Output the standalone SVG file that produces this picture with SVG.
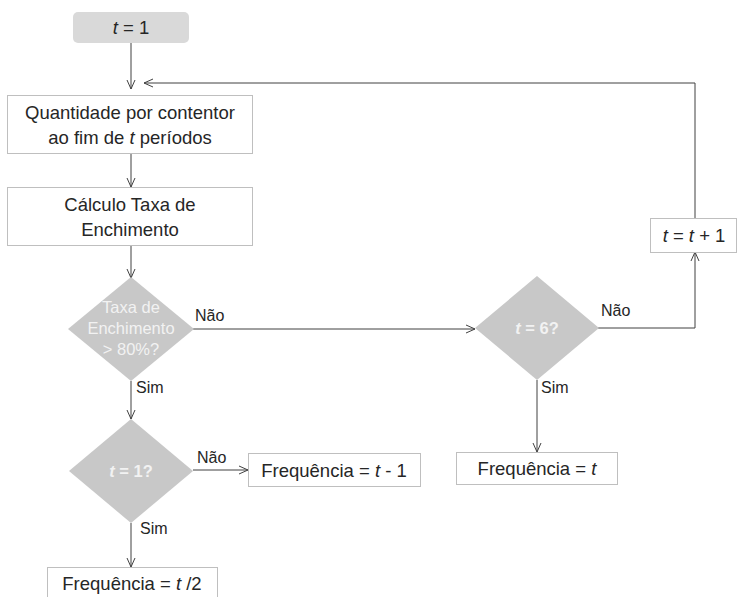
<svg xmlns="http://www.w3.org/2000/svg" width="737" height="597" viewBox="0 0 737 597">
<defs>
<style>
.box{fill:#fff;stroke:#bfbfbf;stroke-width:1}
.start{fill:#d9d9d9;stroke:none}
.dia{fill:#c8c8c8;stroke:none}
.t{font-family:"Liberation Sans",Arial,sans-serif;font-size:18.5px;fill:#262626;text-anchor:middle}
.dt{font-family:"Liberation Sans",Arial,sans-serif;font-size:16.5px;fill:#f2f2f2;text-anchor:middle}
.db{font-family:"Liberation Sans",Arial,sans-serif;font-size:16.5px;font-weight:bold;fill:#f2f2f2;text-anchor:middle}
.lbl{font-family:"Liberation Sans",Arial,sans-serif;font-size:16px;fill:#262626}
.ln{fill:none;stroke:#404040;stroke-width:1}
</style>
<marker id="ah" viewBox="0 0 10 10" refX="10" refY="5" markerWidth="10" markerHeight="10" markerUnits="userSpaceOnUse" orient="auto">
<path d="M1,1 L10,5 L1,9" fill="none" stroke="#404040" stroke-width="1"/>
</marker>
</defs>
<g id="connectors">
<line class="ln" x1="131" y1="43" x2="131" y2="89" marker-end="url(#ah)"/>
<polyline class="ln" points="695,218 695,83 144,83" marker-end="url(#ah)"/>
<line class="ln" x1="131" y1="153" x2="131" y2="187" marker-end="url(#ah)"/>
<line class="ln" x1="131" y1="245" x2="131" y2="278" marker-end="url(#ah)"/>
<line class="ln" x1="193" y1="329" x2="475" y2="329" marker-end="url(#ah)"/>
<polyline class="ln" points="598,328 695,328 695,252" marker-end="url(#ah)"/>
<line class="ln" x1="537" y1="380" x2="537" y2="452" marker-end="url(#ah)"/>
<line class="ln" x1="131" y1="381" x2="131" y2="419" marker-end="url(#ah)"/>
<line class="ln" x1="193" y1="470" x2="248" y2="470" marker-end="url(#ah)"/>
<line class="ln" x1="131" y1="523" x2="131" y2="567" marker-end="url(#ah)"/>
<text class="lbl" x="195" y="321">Não</text>
<text class="lbl" x="136" y="393">Sim</text>
<text class="lbl" x="601" y="316">Não</text>
<text class="lbl" x="541" y="393">Sim</text>
<text class="lbl" x="197" y="463">Não</text>
<text class="lbl" x="140" y="534">Sim</text>
</g>
<g id="start">
<rect class="start" x="73" y="12" width="116" height="31" rx="5"/>
<text class="t" x="131" y="34"><tspan font-style="italic">t</tspan> = 1</text>
</g>
<g id="quantidade">
<rect class="box" x="7.5" y="95.5" width="245" height="58"/>
<text class="t" x="130" y="119">Quantidade por contentor</text>
<text class="t" x="130" y="144">ao fim de <tspan font-style="italic">t</tspan> períodos</text>
</g>
<g id="calculo">
<rect class="box" x="7.5" y="187.5" width="245" height="58"/>
<text class="t" x="130" y="211">Cálculo Taxa de</text>
<text class="t" x="130" y="236">Enchimento</text>
</g>
<g id="decisao-taxa">
<polygon class="dia" points="131,277 194,329 131,381 68,329"/>
<text class="dt" x="131" y="313">Taxa de</text>
<text class="dt" x="131" y="334">Enchimento</text>
<text class="dt" x="131" y="355">&gt; 80%?</text>
</g>
<g id="decisao-t6">
<polygon class="dia" points="537,276 599,328 537,380 475,328"/>
<text class="db" x="537" y="334"><tspan font-style="italic">t</tspan> = 6?</text>
</g>
<g id="incremento">
<rect class="box" x="650.5" y="218.5" width="86" height="34"/>
<text class="t" x="694" y="242"><tspan font-style="italic">t</tspan> = <tspan font-style="italic">t</tspan> + 1</text>
</g>
<g id="freq-t">
<rect class="box" x="456.5" y="452.5" width="161" height="32"/>
<text class="t" x="537" y="475">Frequência = <tspan font-style="italic">t</tspan></text>
</g>
<g id="decisao-t1">
<polygon class="dia" points="131,419 193,471 131,523 69,471"/>
<text class="db" x="131" y="477"><tspan font-style="italic">t</tspan> = 1?</text>
</g>
<g id="freq-t-1">
<rect class="box" x="248.5" y="453.5" width="172" height="33"/>
<text class="t" x="334" y="477">Frequência = <tspan font-style="italic">t</tspan> - 1</text>
</g>
<g id="freq-t-2">
<rect class="box" x="47.5" y="567.5" width="170" height="40"/>
<text class="t" x="132" y="590">Frequência = <tspan font-style="italic">t</tspan> /2</text>
</g>
</svg>
